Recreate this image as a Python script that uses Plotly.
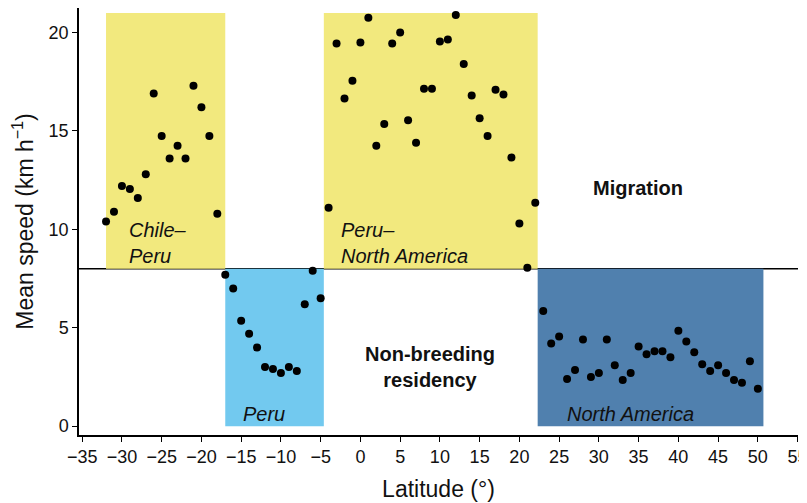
import plotly.graph_objects as go

# ---- data ----
chile_lat = list(range(-32, -17))
chile_speed = [10.4, 10.9, 12.2, 12.05, 11.6, 12.8, 16.9, 14.75, 13.6, 14.25, 13.6, 17.3, 16.2, 14.75, 10.8]

peru_lat = list(range(-17, -4))
peru_speed = [7.7, 7.0, 5.35, 4.7, 4.0, 3.0, 2.9, 2.7, 3.0, 2.8, 6.2, 7.9, 6.5]

pna_lat = list(range(-4, 23))
pna_speed = [11.1, 19.45, 16.65, 17.55, 19.5, 20.75, 14.25, 15.35, 19.45, 20.0, 15.55, 14.4,
             17.15, 17.15, 19.55, 19.65, 20.9, 18.4, 16.8, 15.65, 14.75, 17.1, 16.85, 13.65,
             10.3, 8.05, 11.35]

na_lat = list(range(23, 51))
na_speed = [5.85, 4.2, 4.55, 2.4, 2.85, 4.4, 2.5, 2.7, 4.4, 3.1, 2.35, 2.7, 4.05, 3.65,
            3.8, 3.8, 3.5, 4.85, 4.3, 3.75, 3.15, 2.8, 3.1, 2.7, 2.35, 2.2, 3.3, 1.9]

# region boxes
region_x0 = [-32.0, -17.0, -4.6, 22.3]
region_x1 = [-17.0, -4.6, 22.3, 50.7]
region_y0 = [8, 0, 8, 0]
region_y1 = [21, 8, 21, 8]
region_colors = ["#F2E97E", "#72C9EF", "#F2E97E", "#5080AE"]

region_names = ["Chile–<br>Peru", "Peru", "Peru–<br>North America", "North America"]
region_label_x = [-29.3, -15.0, -2.75, 25.75]
region_label_y = [9.3, 0.62, 9.3, 0.62]

threshold = 8
x_ticks = list(range(-35, 60, 5))
y_ticks = [0, 5, 10, 15, 20]

lat_all = chile_lat + peru_lat + pna_lat + na_lat
speed_all = chile_speed + peru_speed + pna_speed + na_speed

FONT = "Liberation Sans, Arial, Helvetica, sans-serif"

fig = go.Figure()
fig.add_trace(go.Scatter(
    x=lat_all, y=speed_all, mode="markers",
    marker=dict(color="black", size=8),
    showlegend=False, hoverinfo="skip"))

shapes = []
for x0, x1, y0, y1, c in zip(region_x0, region_x1, region_y0, region_y1, region_colors):
    shapes.append(dict(type="rect", xref="x", yref="y", x0=x0, x1=x1, y0=y0, y1=y1,
                       fillcolor=c, line=dict(width=0), layer="below"))
shapes.append(dict(type="line", xref="paper", yref="y", x0=0, x1=1, y0=threshold, y1=threshold,
                   line=dict(color="black", width=1.6), layer="below"))

annotations = []
for name, lx, ly in zip(region_names, region_label_x, region_label_y):
    annotations.append(dict(x=lx, y=ly, xref="x", yref="y", text="<i>" + name + "</i>",
                            showarrow=False, xanchor="left", yanchor="middle", align="left",
                            font=dict(family=FONT, size=20, color="#111")))
annotations.append(dict(x=34.9, y=12.1, xref="x", yref="y", text="<b>Migration</b>",
                        showarrow=False, xanchor="center", yanchor="middle",
                        font=dict(family=FONT, size=20, color="#111")))
annotations.append(dict(x=8.7, y=3.0, xref="x", yref="y",
                        text="<b>Non-breeding<br>residency</b>",
                        showarrow=False, xanchor="center", yanchor="middle", align="center",
                        font=dict(family=FONT, size=20, color="#111")))

# the page body adds an 8px margin, so the figure is sized to fit the window
fig.update_layout(
    width=799, height=495,
    margin=dict(l=71, r=9, t=0, b=68, autoexpand=False),
    paper_bgcolor="white", plot_bgcolor="white",
    shapes=shapes, annotations=annotations,
    font=dict(family=FONT, color="#111"),
    xaxis=dict(range=[-35.4, 55.05], tickvals=x_ticks, ticks="outside", ticklen=5,
               tickcolor="black", showline=True, linecolor="black", linewidth=1.5,
               showgrid=False, zeroline=False, tickfont=dict(size=18, family=FONT),
               automargin=False, ticklabeloverflow="allow",
               title=dict(text="Latitude (°)", font=dict(size=23, family=FONT))),
    yaxis=dict(range=[-0.45, 21.25], tickvals=y_ticks, ticks="outside", ticklen=5,
               tickcolor="black", showline=True, linecolor="black", linewidth=1.5,
               showgrid=False, zeroline=False, tickfont=dict(size=18, family=FONT),
               automargin=False,
               title=dict(text="Mean speed (km h<sup>−1</sup>)", font=dict(size=23, family=FONT))),
)

fig.write_html("out.html")
